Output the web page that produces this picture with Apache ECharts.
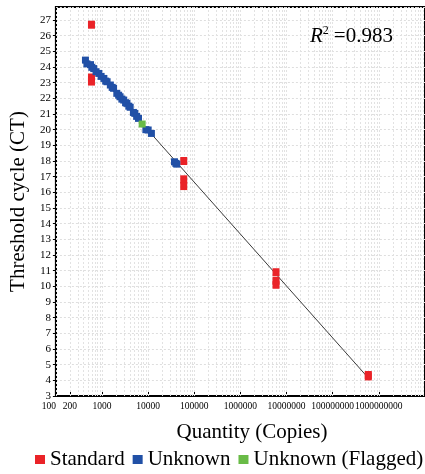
<!DOCTYPE html>
<html><head><meta charset="utf-8">
<script src="https://cdn.jsdelivr.net/npm/echarts@6/dist/echarts.min.js"></script>
<style>html,body{margin:0;padding:0;background:#fff}#c{width:425px;height:474px}</style>
</head><body><div id="c"></div>
<script>
// ---- data ----
const xTickValues = [100, 200, 1000, 10000, 100000, 1000000, 10000000, 100000000, 1000000000];
const yMin = 3, yMax = 27.83;
const standardData = [
  [590, 26.7], [590, 23.33], [590, 23.07],
  [59000, 18.0], [59000, 16.83], [59000, 16.4],
  [5900000, 10.9], [5900000, 10.35], [5900000, 10.1],
  [590000000, 4.34], [590000000, 4.25]
];
const unknownData = [
  [437, 24.44], [470, 24.2], [562, 24.15], [600, 23.98], [661, 23.9], [741, 23.7],
  [851, 23.59], [955, 23.4], [1096, 23.27], [1200, 23.1], [1288, 23.06], [1514, 22.85],
  [1660, 22.7], [1778, 22.64], [2089, 22.32], [2291, 22.2], [2455, 22.1], [2692, 21.95],
  [2951, 21.89], [3236, 21.72], [3467, 21.68], [3802, 21.5], [4074, 21.43], [4786, 21.1],
  [5129, 21.04], [5623, 20.85], [6166, 20.72], [8913, 20.0], [10000, 19.98], [11749, 19.76],
  [37150, 17.95], [39800, 17.85], [41700, 17.8]
];
const flaggedData = [[7413, 20.36]];
const fitLine = [[437, 24.46], [590000000, 4.15]];
const r2Value = '0.983';
const xTitle = 'Quantity (Copies)';
const yTitle = 'Threshold cycle (CT)';
const seriesNames = ['Standard', 'Unknown', 'Unknown (Flagged)'];
const colors = ['#ea2328', '#2150a6', '#69bb47'];

// minor log grid positions (1..9 x each decade)
const minorGrid = [];
for (let d = 100; d < 1e10; d *= 10) {
  for (let m = 1; m <= 9; m++) minorGrid.push(m * d);
}

const serif = 'Liberation Serif';
function fmtX(v) {
  const e = Math.log10(v), r = Math.round(e);
  return Math.abs(e - r) < 1e-4 ? String(Math.pow(10, r)) : String(Math.round(v));
}
const chart = echarts.init(document.getElementById('c'), null, {renderer: 'canvas'});
chart.setOption({
  animation: false,
  backgroundColor: '#fff',
  title: {
    text: '{i|R}{s|2} {t|=' + r2Value + '}',
    left: 305, top: 20,
    textStyle: {
      fontWeight: 'normal',
      rich: {
        i: {fontFamily: serif, fontStyle: 'italic', fontWeight: 'normal', fontSize: 21, color: '#000'},
        s: {fontFamily: serif, fontWeight: 'normal', fontSize: 12, color: '#000', padding: [0, 0, 10, 0]},
        t: {fontFamily: serif, fontWeight: 'normal', fontSize: 21, color: '#000'}
      }
    }
  },
  graphic: [{
    type: 'text', x: 252, y: 432, silent: true,
    style: {text: xTitle, fill: '#000', font: '21px "Liberation Serif"', align: 'center', verticalAlign: 'middle'}
  }],
  grid: {left: 53, right: -1, top: 7, bottom: 78, show: true, borderColor: '#000', borderWidth: 2, backgroundColor: '#fff'},
  legend: {
    data: seriesNames.map((n) => ({name: n, icon: 'rect'})),
    left: 35, top: 449, width: 395, padding: 0,
    itemWidth: 10, itemHeight: 9, itemGap: 8,
    textStyle: {fontFamily: serif, fontSize: 21, color: '#000'}
  },
  xAxis: {
    type: 'log', logBase: 10, min: 100, max: 1e10,
    axisLine: {lineStyle: {color: '#000', width: 2}},
    axisTick: {inside: true, length: 4, lineStyle: {color: '#000'}, customValues: xTickValues},
    axisLabel: {
      customValues: xTickValues,
      fontFamily: serif, fontSize: 9.5, color: '#000', margin: 5,
      alignMinLabel: 'right',
      formatter: fmtX
    },
    splitLine: {show: false}
  },
  yAxis: {
    type: 'value', min: yMin, max: yMax, interval: 1,
    name: yTitle, nameLocation: 'middle', nameGap: 26, nameRotate: 90,
    nameTextStyle: {fontFamily: serif, fontSize: 21, color: '#000'},
    axisLine: {show: true, lineStyle: {color: '#000', width: 2}},
    axisTick: {show: true, length: 3, lineStyle: {color: '#000'}},
    axisLabel: {
      fontFamily: serif, fontSize: 11, color: '#000', margin: 5, showMaxLabel: false,
      formatter: (v) => (Number.isInteger(v) ? String(v) : '')
    },
    splitLine: {show: true, lineStyle: {color: '#dedede', type: [2, 2], width: 1}}
  },
  series: [
    {
      name: 'grid', type: 'scatter', data: [], z: 1, silent: true,
      markLine: {
        silent: true, symbol: 'none', animation: false, z: 1,
        label: {show: false},
        emphasis: {disabled: true},
        lineStyle: {color: '#e2e2e2', type: [2, 2], width: 1},
        data: minorGrid.map((v) => ({xAxis: v}))
      }
    },
    {
      name: 'fit', type: 'line', data: fitLine, z: 2, silent: true,
      symbol: 'none', lineStyle: {color: '#3a3a3a', width: 1}
    },
    {name: seriesNames[0], type: 'scatter', data: standardData, symbol: 'rect', symbolSize: [7, 8], z: 3,
     itemStyle: {color: colors[0], opacity: 1}},
    {name: seriesNames[1], type: 'scatter', data: unknownData, symbol: 'rect', symbolSize: 7, z: 3,
     itemStyle: {color: colors[1], opacity: 1}},
    {name: seriesNames[2], type: 'scatter', data: flaggedData, symbol: 'rect', symbolSize: 7, z: 4,
     itemStyle: {color: colors[2], opacity: 1}}
  ]
});
</script>
</body></html>
